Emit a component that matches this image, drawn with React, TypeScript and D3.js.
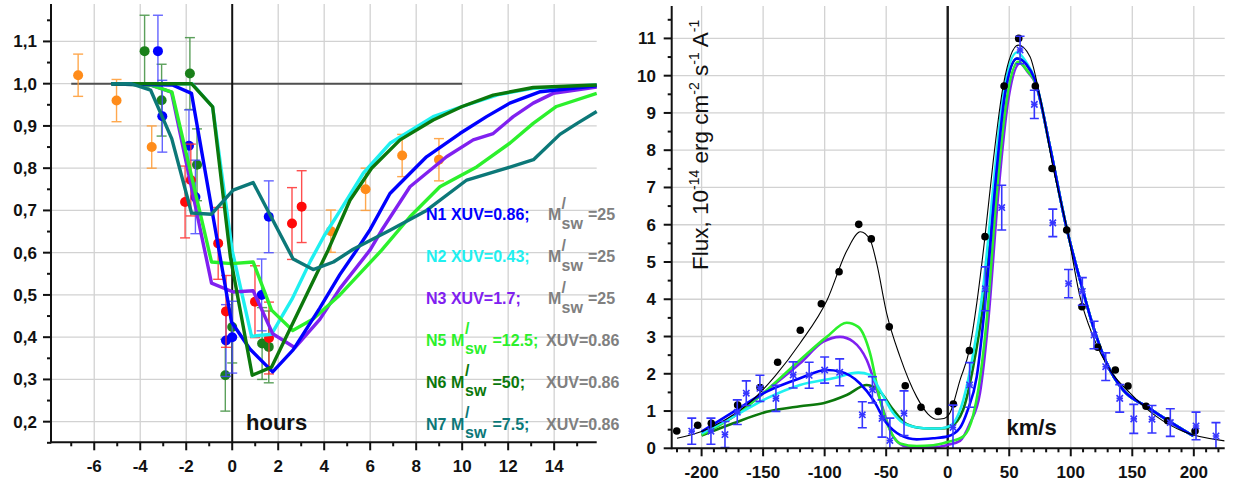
import React from 'react';
import * as d3 from 'd3';

const FONT = "'Liberation Sans', Arial, Helvetica, sans-serif";

// ---------- Left panel: relative flux versus time (hours) ----------
const hourTicks = [-6, -4, -2, 0, 2, 4, 6, 8, 10, 12, 14];
const hourMinor = [-7, -5, -3, -1, 1, 3, 5, 7, 9, 11, 13, 15];
const depthTicks = [0.2, 0.3, 0.4, 0.5, 0.6, 0.7, 0.8, 0.9, 1.0, 1.1];
const depthMinor = [0.15, 0.25, 0.35, 0.45, 0.55, 0.65, 0.75, 0.85, 0.95, 1.05, 1.15];

// observations: [hours, relative flux, error]
const obsOrange: [number, number, number][] = [
  [-6.7, 1.02, 0.05], [-5.03, 0.96, 0.05], [-3.5, 0.85, 0.05], [4.29, 0.651, 0.05],
  [5.8, 0.75, 0.05], [7.39, 0.83, 0.05], [8.99, 0.82, 0.05],
];
const obsBlue: [number, number, number][] = [
  [-3.23, 1.077, 0.085], [-3.04, 0.923, 0.085], [-1.88, 0.853, 0.085], [-1.6, 0.732, 0.087],
  [-0.27, 0.392, 0.085], [0.0, 0.4, 0.085], [1.28, 0.5, 0.085], [1.59, 0.685, 0.085],
];
const obsGreen: [number, number, number][] = [
  [-3.81, 1.077, 0.085], [-3.07, 0.961, 0.085], [-1.84, 1.024, 0.085], [-1.53, 0.808, 0.085],
  [-0.3, 0.31, 0.085], [0.0, 0.424, 0.085], [1.3, 0.385, 0.085], [1.59, 0.377, 0.085],
];
const obsRed: [number, number, number][] = [
  [-2.05, 0.72, 0.085], [-1.8, 0.772, 0.085], [-0.61, 0.622, 0.085], [-0.27, 0.461, 0.085],
  [0.99, 0.484, 0.085], [1.6, 0.398, 0.085], [2.6, 0.669, 0.085], [3.02, 0.709, 0.085],
];

// model light curves: [hours, relative flux]
const lcN1: [number, number][] = [
  [-5.25, 1.0], [-2.6, 0.997], [-1.77, 0.977], [-0.03, 0.436], [0.77, 0.372], [1.76, 0.318],
  [2.65, 0.37], [3.8, 0.468], [4.68, 0.548], [5.41, 0.606], [6.0, 0.655], [6.86, 0.74],
  [8.45, 0.827], [9.9, 0.882], [11.06, 0.922], [12.07, 0.954], [13.4, 0.981], [15.85, 0.995],
];
const lcN2: [number, number][] = [
  [-5.25, 1.0], [-1.75, 1.0], [-0.85, 0.945], [0.0, 0.605], [0.84, 0.402], [1.71, 0.407],
  [2.6, 0.49], [3.4, 0.58], [4.0, 0.64], [4.7, 0.7], [5.7, 0.788], [6.86, 0.859],
  [8.74, 0.922], [10.0, 0.946], [11.64, 0.975], [13.07, 0.989], [15.85, 0.997],
];
const lcN3: [number, number][] = [
  [-5.25, 1.0], [-3.5, 0.996], [-2.64, 0.98], [-0.9, 0.528], [0.04, 0.507], [0.91, 0.51],
  [1.76, 0.408], [2.73, 0.375], [3.81, 0.442], [4.68, 0.515], [5.99, 0.606], [6.5, 0.653],
  [7.73, 0.756], [9.32, 0.827], [10.48, 0.867], [11.35, 0.882], [12.22, 0.922], [13.09, 0.954],
  [13.96, 0.977], [15.85, 0.992],
];
const lcN5: [number, number][] = [
  [-5.25, 1.0], [-3.5, 0.996], [-2.62, 0.98], [-0.9, 0.578], [-0.03, 0.574], [0.91, 0.578],
  [1.71, 0.464], [2.63, 0.416], [3.52, 0.443], [4.68, 0.5], [6.5, 0.606], [7.73, 0.685],
  [9.03, 0.756], [10.63, 0.803], [12.07, 0.859], [13.09, 0.906], [14.1, 0.946], [15.85, 0.977],
];
const lcN6: [number, number][] = [
  [-5.25, 1.0], [-1.77, 1.0], [-0.85, 0.945], [-0.08, 0.59], [0.87, 0.31], [1.71, 0.329],
  [4.17, 0.606], [5.12, 0.724], [6.06, 0.8], [7.3, 0.867], [8.74, 0.914], [10.0, 0.946],
  [11.35, 0.973], [13.09, 0.991], [15.85, 0.997],
];
const lcN7: [number, number][] = [
  [-5.25, 1.0], [-4.4, 1.0], [-3.55, 0.985], [-2.63, 0.87], [-1.77, 0.694], [-0.9, 0.691],
  [0.04, 0.748], [0.91, 0.766], [2.65, 0.585], [3.52, 0.56], [4.4, 0.578], [5.26, 0.608],
  [6.86, 0.653], [8.45, 0.7], [10.2, 0.772], [11.93, 0.8], [13.1, 0.82], [14.25, 0.88],
  [15.0, 0.906], [15.85, 0.934],
];

// ---------- Right panel: line profile versus velocity ----------
const velTicks = [-200, -150, -100, -50, 0, 50, 100, 150, 200];
const velMinor = [-220, -210, -190, -180, -170, -160, -140, -130, -120, -110, -90, -80, -70, -60,
  -40, -30, -20, -10, 10, 20, 30, 40, 60, 70, 80, 90, 110, 120, 130, 140, 160, 170, 180, 190, 210, 220];
const fluxTicks = [0, 1, 2, 3, 4, 5, 6, 7, 8, 9, 10, 11];
const fluxMinor = [0.5, 1.5, 2.5, 3.5, 4.5, 5.5, 6.5, 7.5, 8.5, 9.5, 10.5, 11.5];

// out-of-transit profile (dots) and its fit
const profileBase: [number, number][] = [
  [-220.2, 0.464], [-203.2, 0.617], [-192.1, 0.67], [-170.7, 1.16], [-152.5, 1.63], [-138.2, 2.31],
  [-119.8, 3.17], [-102.7, 3.88], [-88.3, 4.74], [-72.3, 6.01], [-62.1, 5.62], [-47.5, 3.26],
  [-34.5, 1.68], [-21.7, 1.1], [-7.6, 0.99], [4.6, 1.19], [17.6, 2.62], [30.3, 5.68],
  [45.8, 9.72], [57.7, 11.0], [71.2, 9.72], [84.8, 7.51], [96.7, 5.86], [109.1, 3.8],
  [121.9, 2.71], [136.2, 2.1], [146.5, 1.67], [161.2, 1.13], [178.8, 0.74], [201.0, 0.464],
];
const fitBase: [number, number][] = [
  [-220, 0.27], [-200, 0.45], [-180, 0.78], [-160, 1.25], [-140, 1.95], [-120, 2.82],
  [-98, 3.98], [-82, 5.3], [-71, 5.81], [-63, 5.59], [-57.7, 4.96], [-49.6, 3.62],
  [-38.8, 2.46], [-25.2, 1.38], [-16, 0.92], [-9, 0.78], [-3, 0.8], [2, 0.96], [10, 1.83],
  [17.6, 2.64], [23.6, 3.89], [30.3, 5.68], [37.1, 7.74], [45.2, 9.75], [57.4, 10.82],
  [66.9, 10.51], [75, 9.43], [85.8, 7.51], [97.2, 5.86], [107.5, 4.07], [118.3, 2.99],
  [131.9, 2.1], [148.2, 1.48], [169.8, 0.85], [191.5, 0.45], [225, 0.2],
];
// in-transit profile: [velocity, flux, error]
const profileTransit: [number, number, number][] = [
  [-208, 0.46, 0.35], [-192.4, 0.46, 0.35], [-181, 0.37, 0.35], [-171, 0.97, 0.33],
  [-163.7, 1.48, 0.33], [-152.6, 1.61, 0.35], [-139.6, 1.34, 0.35], [-125.6, 1.97, 0.35],
  [-112.6, 1.96, 0.35], [-100, 2.1, 0.35], [-87.8, 2.04, 0.36], [-69.4, 0.9, 0.35],
  [-61.2, 1.57, 0.35], [-53.4, 0.8, 0.5], [-47, 0.21, 0.6], [-35.5, 0.94, 0.6],
  [4.3, 0.56, 0.6], [17.8, 1.7, 0.6], [30.6, 4.28, 0.59], [43.9, 6.46, 0.6],
  [58.8, 10.69, 0.37], [70.4, 9.23, 0.38], [85.4, 6.05, 0.37], [98.2, 4.42, 0.38],
  [109.4, 4.21, 0.37], [118.9, 3.04, 0.37], [128.4, 2.19, 0.37], [139.8, 1.34, 0.37],
  [151.2, 0.79, 0.39], [166.0, 0.78, 0.37], [180.9, 0.69, 0.37], [201.8, 0.6, 0.37],
  [218.0, 0.33, 0.36],
];

// model profiles: [velocity, flux]
const prN1: [number, number][] = [
  [-200, 0.45], [-174.2, 0.98], [-147.1, 1.52], [-120, 1.88], [-98.3, 2.1], [-87.5, 2.06],
  [-71.3, 1.74], [-60.5, 1.3], [-49.6, 0.67], [-38.8, 0.36], [-25.2, 0.24], [-11.7, 0.27],
  [0, 0.32], [10, 0.55], [16, 1.0], [23.6, 1.92], [31.7, 4.34], [39.8, 7.47], [46.6, 9.52],
  [56.1, 10.46], [64, 10.3], [71, 9.88], [83.1, 8.09], [96, 6.0], [109, 4.34], [118.3, 3.26],
  [129.2, 2.28], [142.7, 1.56], [161.7, 1.12], [180.7, 0.71], [199.6, 0.33],
];
const prN2: [number, number][] = [
  [-200, 0.4], [-174.2, 0.85], [-147.1, 1.34], [-120, 1.7], [-93, 1.88], [-72.7, 2.03],
  [-63.1, 1.97], [-55, 1.56], [-44.2, 0.94], [-33.3, 0.63], [-19.8, 0.54], [-6.3, 0.53],
  [1.9, 0.6], [12.7, 1.3], [20.8, 2.55], [28.9, 4.34], [37.1, 7.02], [45.2, 9.52],
  [56.3, 10.63], [64, 10.35], [71, 9.9], [83.1, 8.09], [96, 6.0], [109, 4.34], [118.3, 3.26],
  [129.2, 2.28], [142.7, 1.56], [161.7, 1.12], [180.7, 0.71], [199.6, 0.33],
];
const prN3: [number, number][] = [
  [-200, 0.38], [-174.2, 0.85], [-147.1, 1.55], [-120, 2.28], [-101.1, 2.86], [-87.5, 2.99],
  [-76.7, 2.86], [-65.8, 2.37], [-55, 1.3], [-44.2, 0.31], [-33.3, 0.05], [-11.7, 0.03],
  [0, 0.09], [10, 0.2], [18.1, 0.67], [26.2, 1.48], [33, 3.44], [41.1, 6.84], [49.2, 9.35],
  [58.8, 10.33], [65, 10.1], [71, 9.82], [83.1, 8.09], [96, 6.0], [109, 4.34], [118.3, 3.26],
  [129.2, 2.28], [142.7, 1.56], [161.7, 1.12], [180.7, 0.71], [199.6, 0.33],
];
const prN5: [number, number][] = [
  [-200, 0.36], [-174.2, 0.85], [-147.1, 1.56], [-120, 2.37], [-98.3, 2.99], [-82.1, 3.37],
  [-72.7, 3.26], [-63.1, 2.55], [-55, 1.3], [-46.9, 0.49], [-38.8, 0.13], [-25.2, 0.06],
  [-11.7, 0.08], [0, 0.17], [12.7, 0.32], [20.8, 0.9], [25, 1.6], [31.7, 3.44], [39.8, 6.84],
  [47.9, 9.35], [57.4, 10.37], [65, 10.12], [71, 9.84], [83.1, 8.09], [96, 6.0], [109, 4.34],
  [118.3, 3.26], [129.2, 2.28], [142.7, 1.56], [161.7, 1.12], [180.7, 0.71], [199.6, 0.33],
];
const prN6: [number, number][] = [
  [-200, 0.34], [-174.2, 0.67], [-147.1, 0.98], [-120, 1.13], [-101.1, 1.21], [-82.1, 1.43],
  [-65.8, 1.7], [-55, 1.52], [-44.2, 1.03], [-33.3, 0.65], [-19.8, 0.54], [-6.3, 0.53],
  [1.9, 0.58], [12.7, 1.05], [20.8, 2.2], [28.9, 3.9], [37.1, 6.6], [45.2, 9.3],
  [56.5, 10.46], [64, 10.3], [71, 9.88], [83.1, 8.09], [96, 6.0], [109, 4.34], [118.3, 3.26],
  [129.2, 2.28], [142.7, 1.56], [161.7, 1.12], [180.7, 0.71], [199.6, 0.33],
];

const C = {
  n1: '#0000ff', n2: '#1ff0f0', n3: '#8020f0', n5: '#2cf02c', n6: '#0c780c', n7: '#0c7878',
  gray: '#808080', orange: '#ff8c1a', red: '#ff0a0a', obsGreen: '#1a801a', obsBlue: '#0000ff',
  grid: '#d2d2d2',
};

// scales
const xL = d3.scaleLinear().domain([-7.88, 15.85]).range([51, 596.7]);
const yL = d3.scaleLinear().domain([0.1512, 1.1886]).range([442.3, 4]);
const xR = d3.scaleLinear().domain([-224.3, 225.1]).range([671.7, 1224.7]);
const yR = d3.scaleLinear().domain([0, 11.87]).range([448.3, 6]);

const lineL = d3.line<[number, number]>().x((d) => xL(d[0])).y((d) => yL(d[1]));
const lineR = d3.line<[number, number]>().x((d) => xR(d[0])).y((d) => yR(d[1])).curve(d3.curveMonotoneX);

const commaFmt = (v: number) => d3.format('.1f')(v).replace('.', ',');

function ErrDots({ data, color, barColor, x, y, r = 5, cap = 5 }: any) {
  return (
    <g>
      {data.map((d: number[], i: number) => {
        const cx = x(d[0]);
        const y1 = y(d[1] + d[2]);
        const y2 = y(d[1] - d[2]);
        return (
          <g key={i}>
            <g stroke={barColor} strokeWidth={1.4} opacity={0.85}>
              <line x1={cx} x2={cx} y1={y1} y2={y2} />
              <line x1={cx - cap} x2={cx + cap} y1={y1} y2={y1} />
              <line x1={cx - cap} x2={cx + cap} y1={y2} y2={y2} />
            </g>
            <circle cx={cx} cy={y(d[1])} r={r} fill={color} />
          </g>
        );
      })}
    </g>
  );
}

const legendXuv = [
  { label: 'N1 XUV=0.86;', color: C.n1, base: 220, tail: '=25' },
  { label: 'N2 XUV=0.43;', color: C.n2, base: 262, tail: '=25' },
  { label: 'N3 XUV=1.7;', color: C.n3, base: 304, tail: '=25' },
];
const legendMsw = [
  { label: 'N5 M', value: '=12.5;', color: C.n5, base: 345.5 },
  { label: 'N6 M', value: '=50;', color: C.n6, base: 387.5 },
  { label: 'N7 M', value: '=7.5;', color: C.n7, base: 429.5 },
];
const legendXuvTail = 'XUV=0.86';

export default function App() {
  const boldText = { fontFamily: FONT, fontWeight: 700 } as const;
  const [lx0, lx1] = xL.range();
  const [ly0, ly1] = yL.range();
  const [rx0, rx1] = xR.range();
  const [ry0, ry1] = yR.range();

  return (
    <svg width={1242} height={487} style={{ position: 'absolute', left: 0, top: 0, background: '#fff' }}>
      <defs>
        <clipPath id="clipR">
          <rect x={rx0} y={ry1} width={rx1 - rx0} height={ry0 - ry1} />
        </clipPath>
      </defs>

      {/* ===== Left panel ===== */}
      <g stroke={C.grid} strokeWidth={1.3}>
        {hourTicks.map((t) => (t !== 0 ? <line key={t} x1={xL(t)} x2={xL(t)} y1={ly1} y2={ly0} /> : null))}
        {depthTicks.map((t) => <line key={t} x1={lx0} x2={lx1} y1={yL(t)} y2={yL(t)} />)}
      </g>
      <line x1={xL(-7)} x2={xL(10)} y1={yL(1)} y2={yL(1)} stroke="#505050" strokeWidth={2} />
      <line x1={xL(0)} x2={xL(0)} y1={ly1} y2={ly0} stroke="#111" strokeWidth={2} />

      <ErrDots data={obsOrange} color={C.orange} barColor="#ff9a30" x={xL} y={yL} />
      <ErrDots data={obsGreen} color={C.obsGreen} barColor="#3f903f" x={xL} y={yL} />
      <ErrDots data={obsBlue} color={C.obsBlue} barColor="#4a4aff" x={xL} y={yL} />
      <ErrDots data={obsRed} color={C.red} barColor="#ff3030" x={xL} y={yL} />

      <g fill="none" strokeWidth={3.4} strokeLinejoin="round">
        <path d={lineL(lcN2) || ''} stroke={C.n2} />
        <path d={lineL(lcN3) || ''} stroke={C.n3} />
        <path d={lineL(lcN5) || ''} stroke={C.n5} />
        <path d={lineL(lcN1) || ''} stroke={C.n1} />
        <path d={lineL(lcN6) || ''} stroke={C.n6} />
        <path d={lineL(lcN7) || ''} stroke={C.n7} />
      </g>

      {/* left axes */}
      <g stroke="#111" strokeWidth={2}>
        <line x1={lx0} x2={lx0} y1={ly1} y2={ly0 + 1} />
        <line x1={lx0} x2={lx1} y1={ly0} y2={ly0} />
        {depthTicks.map((t) => <line key={t} x1={lx0 - 8} x2={lx0} y1={yL(t)} y2={yL(t)} />)}
        {depthMinor.map((t) => <line key={t} x1={lx0 - 4} x2={lx0} y1={yL(t)} y2={yL(t)} />)}
        {hourTicks.map((t) => <line key={t} x1={xL(t)} x2={xL(t)} y1={ly0} y2={ly0 + 8} />)}
        {hourMinor.map((t) => <line key={t} x1={xL(t)} x2={xL(t)} y1={ly0} y2={ly0 + 4} />)}
      </g>
      <g style={boldText} fontSize={17} fill="#111">
        {depthTicks.map((t) => (
          <text key={t} x={37} y={yL(t) + 6} textAnchor="end">{commaFmt(t)}</text>
        ))}
        {hourTicks.map((t) => (
          <text key={t} x={xL(t)} y={472} textAnchor="middle">{t}</text>
        ))}
      </g>
      <text x={246} y={430} style={boldText} fontSize={22} fill="#111">hours</text>

      {/* legend */}
      <g style={boldText} fontSize={16}>
        {legendXuv.map((r) => (
          <g key={r.label}>
            <text x={426} y={r.base} fill={r.color}>{r.label}</text>
            <text x={548} y={r.base} fill={C.gray}>M</text>
            <text x={561.5} y={r.base - 11.5} fill={C.gray}>/</text>
            <text x={561.5} y={r.base + 8.5} fill={C.gray}>sw</text>
            <text x={588} y={r.base} fill={C.gray}>{r.tail}</text>
          </g>
        ))}
        {legendMsw.map((r) => (
          <g key={r.label}>
            <text x={426} y={r.base} fill={r.color}>{r.label}</text>
            <text x={465} y={r.base - 11.5} fill={r.color}>/</text>
            <text x={465} y={r.base + 8.5} fill={r.color}>sw</text>
            <text x={492.5} y={r.base} fill={r.color}>{r.value}</text>
            <text x={546} y={r.base} fill={C.gray}>{legendXuvTail}</text>
          </g>
        ))}
      </g>

      {/* ===== Right panel ===== */}
      <g stroke={C.grid} strokeWidth={1.3}>
        {velTicks.map((t) => (t !== 0 ? <line key={t} x1={xR(t)} x2={xR(t)} y1={ry1} y2={ry0} /> : null))}
        {fluxTicks.filter((t) => t > 0).map((t) => <line key={t} x1={rx0} x2={rx1} y1={yR(t)} y2={yR(t)} />)}
      </g>
      <line x1={xR(0)} x2={xR(0)} y1={ry1} y2={ry0} stroke="#1a1a1a" strokeWidth={2.4} />

      <g clipPath="url(#clipR)">
        <g fill="none" strokeWidth={2.6} strokeLinejoin="round">
          <path d={lineR(prN6) || ''} stroke={C.n6} />
          <path d={lineR(prN3) || ''} stroke={C.n3} />
          <path d={lineR(prN5) || ''} stroke={C.n5} />
          <path d={lineR(prN2) || ''} stroke={C.n2} />
          <path d={lineR(prN1) || ''} stroke={C.n1} />
        </g>
        <path d={lineR(fitBase) || ''} fill="none" stroke="#000" strokeWidth={1.1} />
        {profileBase.map((d, i) => (
          <circle key={i} cx={xR(d[0])} cy={yR(d[1])} r={3.8} fill="#000" />
        ))}
        {profileTransit.map((d, i) => {
          const cx = xR(d[0]);
          const cy = yR(d[1]);
          const y1 = yR(d[1] + d[2]);
          const y2 = yR(d[1] - d[2]);
          const s = 3.2;
          return (
            <g key={i} stroke="#3535ff" strokeWidth={1.6}>
              <line x1={cx} x2={cx} y1={y1} y2={y2} />
              <line x1={cx - 4.5} x2={cx + 4.5} y1={y1} y2={y1} />
              <line x1={cx - 4.5} x2={cx + 4.5} y1={y2} y2={y2} />
              <line x1={cx - s} x2={cx + s} y1={cy - s} y2={cy + s} />
              <line x1={cx - s} x2={cx + s} y1={cy + s} y2={cy - s} />
              <line x1={cx - s} x2={cx + s} y1={cy} y2={cy} />
            </g>
          );
        })}
      </g>

      {/* right axes */}
      <g stroke="#111" strokeWidth={2}>
        <line x1={rx0} x2={rx0} y1={ry1} y2={ry0 + 1} />
        <line x1={rx0} x2={rx1} y1={ry0} y2={ry0} />
        {fluxTicks.map((t) => <line key={t} x1={rx0 - 8} x2={rx0} y1={yR(t)} y2={yR(t)} />)}
        {fluxMinor.map((t) => <line key={t} x1={rx0 - 4} x2={rx0} y1={yR(t)} y2={yR(t)} />)}
        {velTicks.map((t) => <line key={t} x1={xR(t)} x2={xR(t)} y1={ry0} y2={ry0 + 8} />)}
        {velMinor.map((t) => <line key={t} x1={xR(t)} x2={xR(t)} y1={ry0} y2={ry0 + 4} />)}
      </g>
      <g style={boldText} fontSize={17} fill="#111">
        {fluxTicks.map((t) => (
          <text key={t} x={656} y={yR(t) + 6} textAnchor="end">{t}</text>
        ))}
        {velTicks.map((t) => (
          <text key={t} x={xR(t)} y={478} textAnchor="middle">{t}</text>
        ))}
      </g>
      <text x={1006.5} y={435} style={boldText} fontSize={22} fill="#111">km/s</text>
      <text
        transform="translate(708,270) rotate(-90)"
        fontFamily={FONT}
        fontSize={22.5}
        fill="#111"
      >
        <tspan>Flux, 10</tspan>
        <tspan fontSize={14} dy={-9}>-14</tspan>
        <tspan dy={9}> erg cm</tspan>
        <tspan fontSize={14} dy={-9}>-2</tspan>
        <tspan dy={9}> s</tspan>
        <tspan fontSize={14} dy={-9}>-1</tspan>
        <tspan dy={9}> A</tspan>
        <tspan fontSize={14} dy={-9}>-1</tspan>
      </text>
    </svg>
  );
}
